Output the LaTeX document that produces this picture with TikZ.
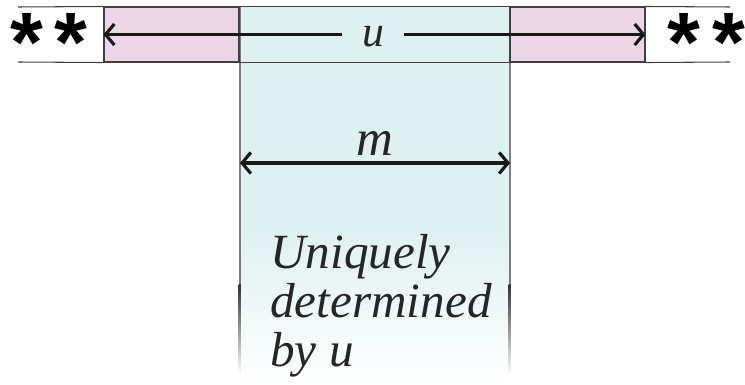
\documentclass[tikz,border=0pt]{standalone}
\usepackage{fontspec}
\setmainfont{Liberation Serif}
\newfontfamily\starfont{Liberation Sans}
\usetikzlibrary{arrows.meta, positioning}

\definecolor{pinkfill}{RGB}{236,214,230}
\definecolor{tealfill}{RGB}{222,240,240}
\definecolor{edgegray}{RGB}{125,125,125}

\begin{document}
\begin{tikzpicture}[
    x=0.02cm, y=-0.02cm,
    pinkbox/.style={rectangle, draw=black!75, line width=0.6pt, fill=pinkfill, minimum width=2.7cm, minimum height=1.1cm, inner sep=0pt},
    star/.style={font=\starfont\bfseries\fontsize{48}{48}\selectfont, inner sep=0pt},
    barb/.tip={Straight Barb[length=5pt, width=12pt, line width=1.8pt]},
    dim/.style={barb-barb, line width=2.1pt, black!90},
    mathlbl/.style={font=\itshape, inner sep=0pt, text=black!85}
]
\useasboundingbox (0,0) rectangle (745,385);

% middle column, fading out at the bottom
\fill[tealfill] (239,7) rectangle (510,225);
\shade[top color=tealfill, bottom color=white] (239,225) rectangle (510,385);
\fill[edgegray] (238.5,7) rectangle (240.5,285);
\fill[edgegray] (508.5,7) rectangle (510.5,285);
\shade[top color=black!80, bottom color=white] (238.5,285) rectangle (240.5,375);
\shade[top color=black!80, bottom color=white] (508.5,285) rectangle (510.5,375);

% top band
\node[pinkbox] (lpink) at (171.5,34.5) {};
\node[pinkbox] (rpink) at (577.5,34.5) {};
\draw[black!75, line width=0.6pt] (18,7) -- (lpink.north west);
\draw[black!75, line width=0.6pt] (18,62) -- (lpink.south west);
\draw[black!75, line width=0.6pt] (lpink.north east) -- (rpink.north west);
\draw[black!75, line width=0.6pt] (lpink.south east) -- (rpink.south west);
\draw[black!75, line width=0.6pt] (rpink.north east) -- (730,7);
\draw[black!75, line width=0.6pt] (rpink.south east) -- (730,62);

% asterisks
\node[star] (s1) at (27,42) {*};
\node[star] (s2) at (71,42) {*};
\node[star] (s3) at (684,42) {*};
\node[star] (s4) at (729,42) {*};

% length u
\node[mathlbl, font=\itshape\fontsize{25}{25}\selectfont, fill=tealfill, inner xsep=11pt, inner ysep=6pt] (ulbl) at (373,37) {u};
\draw[dim, -barb] (ulbl.west |- lpink.west) -- (lpink.west);
\draw[dim, -barb] (ulbl.east |- rpink.east) -- (rpink.east);

% length m
\coordinate (mleft) at (240,163);
\coordinate (mright) at (510,163);
\draw[dim] (mleft) -- node[mathlbl, above=3pt, font=\itshape\fontsize{29}{29}\selectfont] (mlbl) {m} (mright);

% note
\node[mathlbl, anchor=base west, align=left, font=\itshape\fontsize{28}{28}\selectfont] (note) at (270,367)
  {Uniquely\\determined\\by u};

\end{tikzpicture}
\end{document}
